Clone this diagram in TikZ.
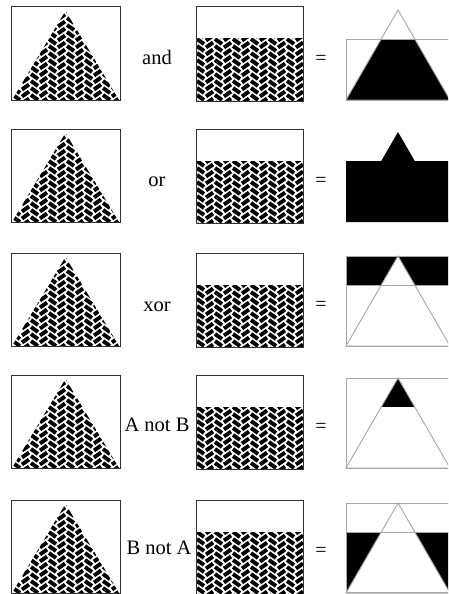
\documentclass[tikz,border=0pt]{standalone}
\usepackage{fontspec}
\setmainfont{Liberation Serif}
\newcommand\herring[2]{%
  \foreach \k in {0,...,12}{%
    \foreach \j in {-1,...,14}{%
      \pgfmathsetmacro\xl{#1+\k*9}%
      \ifodd\k
        \pgfmathsetmacro\yy{#2+\j*7+3.5}%
        \draw[hb] (\xl+1,\yy+5) -- (\xl+8,\yy);
      \else
        \pgfmathsetmacro\yy{#2+\j*7}%
        \draw[hb] (\xl+1,\yy) -- (\xl+8,\yy+5);
      \fi
    }}}
\newcommand\panelA[1]{%
  \begin{scope}
    \clip (65.5,#1+4) -- (12,#1+93) -- (119,#1+93) -- cycle;
    \herring{12}{#1+4}
  \end{scope}
  \draw[frame] (11,#1) rectangle (120,#1+93);}
\newcommand\panelB[1]{%
  \begin{scope}
    \clip (196,#1+32) rectangle (303,#1+94);
    \herring{196}{#1+32}
  \end{scope}
  \draw[frame] (196,#1) rectangle (303,#1+94);}
\newcommand\tri[1]{(398,#1+3) -- (346,#1+93) -- (450,#1+93) -- cycle}
\begin{document}
\begin{tikzpicture}[x=1pt,y=-1pt,
  frame/.style={draw=black!80,line width=1pt},
  res/.style={draw=black!35,line width=0.9pt},
  hb/.style={line width=3.9pt,black},
  lab/.style={font=\fontsize{20.5}{24}\selectfont,anchor=base,inner sep=0pt},
  eq/.style={font=\fontsize{20}{24}\selectfont,inner sep=0pt}]
\clip (0,0) rectangle (448,594);
\fill[white] (0,0) rectangle (448,594);
% Row 1: and
\panelA{7}\panelB{7}
\node[lab] (l1) at (157,64) {and};
\node[eq] (e1) at (321,60) {=};
\begin{scope}
  \clip \tri{7};
  \fill (346,39) rectangle (450,100);
\end{scope}
\draw[res] \tri{7};
\draw[res] (346,39) rectangle (450,100);
% Row 2: or
\panelA{129}\panelB{129}
\node[lab] (l2) at (157,186) {or};
\node[eq] (e2) at (321,182) {=};
\fill (346,161) rectangle (450,222);
\fill \tri{129};
% Row 3: xor
\panelA{253}\panelB{253}
\node[lab] (l3) at (157,311) {xor};
\node[eq] (e3) at (321,306) {=};
\begin{scope}
  \clip (346,256) rectangle (450,285);
  \fill[even odd rule] (346,256) rectangle (450,285) \tri{253};
\end{scope}
\draw[res] (346,256) rectangle (450,346);
\draw[res] (346,285) -- (450,285);
\draw[res] \tri{253};
% Row 4: A not B
\panelA{375}\panelB{375}
\node[lab] (l4) at (157,431) {A not B};
\node[eq] (e4) at (321,428) {=};
\begin{scope}
  \clip \tri{375};
  \fill (346,378) rectangle (450,407);
\end{scope}
\draw[res] (346,378) rectangle (450,468);
\draw[res] \tri{375};
% Row 5: B not A
\panelA{500}\panelB{500}
\node[lab] (l5) at (159,554) {B not A};
\node[eq] (e5) at (321,552) {=};
\begin{scope}
  \clip (346,532) rectangle (450,593);
  \fill[even odd rule] (346,532) rectangle (450,593) \tri{500};
\end{scope}
\draw[res] (346,503) rectangle (450,592);
\draw[res] (346,532) -- (450,532);
\draw[res] \tri{500};
\end{tikzpicture}
\end{document}
